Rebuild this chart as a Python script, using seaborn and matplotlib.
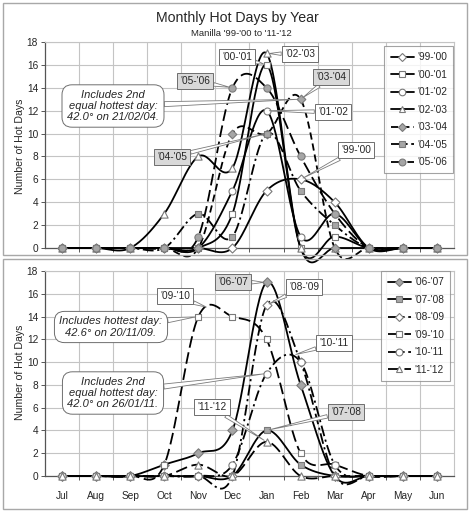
import numpy as np
import pandas as pd
import matplotlib
matplotlib.use("Agg")
import matplotlib.pyplot as plt
import seaborn as sns
from matplotlib.lines import Line2D
from matplotlib.patches import Rectangle

# ---------------- data ----------------
months = ["Jul", "Aug", "Sep", "Oct", "Nov", "Dec", "Jan", "Feb", "Mar", "Apr", "May", "Jun"]

top_labels = ["'99-'00", "'00-'01", "'01-'02", "'02-'03", "'03-'04", "'04-'05", "'05-'06"]
s99_00 = [0, 0, 0, 0, 0, 0, 5, 6, 4, 0, 0, 0]
s00_01 = [0, 0, 0, 0, 0, 3, 16, 0, 1, 0, 0, 0]
s01_02 = [0, 0, 0, 0, 0, 5, 12, 1, 3, 0, 0, 0]
s02_03 = [0, 0, 0, 3, 8, 7, 17, 0, 0, 0, 0, 0]
s03_04 = [0, 0, 0, 0, 0, 10, 10, 13, 0, 0, 0, 0]
s04_05 = [0, 0, 0, 0, 3, 1, 10, 5, 2, 0, 0, 0]
s05_06 = [0, 0, 0, 0, 1, 14, 14, 8, 3, 0, 0, 0]

bottom_labels = ["'06-'07", "'07-'08", "'08-'09", "'09-'10", "'10-'11", "'11-'12"]
s06_07 = [0, 0, 0, 1, 2, 4, 17, 8, 0, 0, 0, 0]
s07_08 = [0, 0, 0, 0, 0, 0, 4, 1, 0, 0, 0, 0]
s08_09 = [0, 0, 0, 0, 0, 0, 15, 10, 0, 0, 0, 0]
s09_10 = [0, 0, 0, 1, 14, 14, 12, 2, 1, 0, 0, 0]
s10_11 = [0, 0, 0, 0, 0, 1, 9, 10, 1, 0, 0, 0]
s11_12 = [0, 0, 0, 0, 1, 0, 3, 0, 0, 0, 0, 0]

y_ticks = [0, 2, 4, 6, 8, 10, 12, 14, 16, 18]

# ---------------- styles ----------------
WHITE = "white"
GREY = "#a6a6a6"
EDGE = "#7a7a7a"
SOLID = "-"
DASH = (0, (4.0, 2.2))
LONG = (0, (6.5, 2.6))
DASHDOT = (0, (6.0, 2.0, 1.2, 2.0))

top_styles = [
    ("D", WHITE, SOLID, 4.6),
    ("s", WHITE, SOLID, 4.6),
    ("o", WHITE, SOLID, 5.0),
    ("^", WHITE, SOLID, 5.2),
    ("D", GREY, DASH, 4.4),
    ("s", GREY, DASHDOT, 4.6),
    ("o", GREY, LONG, 5.2),
]
bottom_styles = [
    ("D", GREY, SOLID, 4.8),
    ("s", GREY, SOLID, 5.0),
    ("D", WHITE, DASHDOT, 4.6),
    ("s", WHITE, LONG, 4.6),
    ("o", WHITE, DASHDOT, 5.2),
    ("^", WHITE, LONG, 5.2),
]

sns.set_theme(style="white")
plt.rcParams["font.family"] = ["Liberation Sans", "DejaVu Sans"]

W, H = 471, 512
fig = plt.figure(figsize=(W / 100, H / 100), dpi=100)


def smooth(vals, n=30):
    """Excel-like smoothed line through the points (Catmull-Rom Bezier)."""
    y = np.asarray(vals, float)
    x = np.arange(len(y), dtype=float)
    P = np.column_stack([x, y])
    N = len(P)
    t = np.linspace(0, 1, n)[:, None]
    out = []
    for i in range(N - 1):
        p0 = P[max(i - 1, 0)]
        p1 = P[i]
        p2 = P[i + 1]
        p3 = P[min(i + 2, N - 1)]
        c1 = p1 + (p2 - p0) / 6.0
        c2 = p2 - (p3 - p1) / 6.0
        b = ((1 - t) ** 3) * p1 + 3 * ((1 - t) ** 2) * t * c1 + 3 * (1 - t) * t ** 2 * c2 + t ** 3 * p2
        out.append(b if i == 0 else b[1:])
    out = np.vstack(out)
    return out[:, 0], out[:, 1]


def make_axes(y0_px, y1_px):
    left, right = 45, 454
    ax = fig.add_axes([left / W, 1 - y1_px / H, (right - left) / W, (y1_px - y0_px) / H])
    ax.set_xlim(-0.5, len(months) - 0.5)
    ax.set_ylim(0, 18)
    ax.set_yticks(y_ticks)
    ax.set_xticks(range(len(months)))
    ax.set_xticks(np.arange(0.5, len(months) - 1, 1.0), minor=True)
    ax.grid(False)
    ax.grid(True, which="minor", axis="x", color="#c4c4c4", lw=0.8)
    ax.grid(True, which="major", axis="y", color="#c4c4c4", lw=0.8)
    ax.set_axisbelow(True)
    for s in ["top", "right"]:
        ax.spines[s].set_color("#c4c4c4")
        ax.spines[s].set_linewidth(0.8)
    for s in ["left", "bottom"]:
        ax.spines[s].set_color("#555555")
        ax.spines[s].set_linewidth(0.9)
    ax.tick_params(axis="y", which="major", labelsize=7.3, length=3, width=0.7,
                   color="#555555", pad=2, left=True, direction="out")
    ax.tick_params(axis="x", which="major", length=0, labelsize=7.3, pad=11)
    ax.tick_params(axis="x", which="minor", length=3, width=0.7, color="#555555", bottom=True,
                   direction="out")
    ax.set_facecolor("white")
    return ax


def draw_series(ax, series, styles):
    for vals, (mk, face, ls, ms) in zip(series, styles):
        cx, cy = smooth(vals)
        sns.lineplot(x=cx, y=cy, ax=ax, color="black", linewidth=1.3, linestyle=ls,
                     sort=False, estimator=None, legend=False, zorder=3, clip_on=False)
    for vals, (mk, face, ls, ms) in zip(series, styles):
        sns.scatterplot(x=np.arange(len(vals)), y=vals, ax=ax, marker=mk, s=ms ** 2,
                        color=face, edgecolor=EDGE, linewidth=0.8, zorder=4,
                        clip_on=False, legend=False)


def legend_for(ax, labels, styles, right_px, top_px):
    handles = [Line2D([0], [0], color="black", lw=1.3, linestyle=ls, marker=mk,
                      markerfacecolor=face, markeredgecolor=EDGE, markersize=ms * 0.95,
                      markeredgewidth=0.8)
               for (mk, face, ls, ms) in styles]
    leg = ax.legend(handles, labels, loc="upper right",
                    bbox_to_anchor=(right_px / W, 1 - top_px / H),
                    bbox_transform=fig.transFigure, fontsize=7.3, frameon=True,
                    fancybox=False, edgecolor="#8c8c8c", handlelength=2.3,
                    handletextpad=0.3, labelspacing=0.74, borderpad=0.6,
                    borderaxespad=0)
    leg.get_frame().set_linewidth(0.8)
    leg.set_zorder(6)


def fpx(x, y):
    return (x, H - y)


def label(ax, text, xy, pos, grey=False):
    ax.annotate(text, xy=xy, xycoords="data", xytext=fpx(*pos), textcoords="figure pixels",
                ha="center", va="center", fontsize=7.3, zorder=7,
                bbox=dict(boxstyle="square,pad=0.34", fc="#d9d9d9" if grey else "white",
                          ec="#6e6e6e", lw=0.7),
                arrowprops=dict(arrowstyle="wedge,tail_width=0.35", fc="white", ec="#7a7a7a",
                                lw=0.6, shrinkA=0, shrinkB=2))


def callout(ax, text, xy, pos):
    ax.annotate(text, xy=xy, xycoords="data", xytext=fpx(*pos), textcoords="figure pixels",
                ha="center", va="center", fontsize=8.0, style="italic", zorder=7,
                linespacing=1.15,
                bbox=dict(boxstyle="round,pad=0.45,rounding_size=0.9", fc="white",
                          ec="#6e6e6e", lw=0.7),
                arrowprops=dict(arrowstyle="wedge,tail_width=0.45", fc="white", ec="#7a7a7a",
                                lw=0.6, shrinkA=0, shrinkB=2))


# ---------------- panel frames ----------------
fig.add_artist(Rectangle((3 / W, 1 - 255 / H), 464 / W, 252 / H, transform=fig.transFigure,
                         fill=False, ec="#a8a8a8", lw=1.0))
fig.add_artist(Rectangle((3 / W, 1 - 509 / H), 464 / W, 250 / H, transform=fig.transFigure,
                         fill=False, ec="#a8a8a8", lw=1.0))

# ---------------- top panel ----------------
ax1 = make_axes(42, 248)
top_series = [s99_00, s00_01, s01_02, s02_03, s03_04, s04_05, s05_06]
draw_series(ax1, top_series, top_styles)
ax1.set_xticklabels([])
ax1.set_xlabel("")
ax1.set_ylabel("")
legend_for(ax1, top_labels, top_styles, 453, 46)

jan, feb, dec = months.index("Jan"), months.index("Feb"), months.index("Dec")
label(ax1, "'00-'01", (jan, s00_01[jan]), (237, 57))
label(ax1, "'02-'03", (jan, s02_03[jan]), (300, 54))
label(ax1, "'05-'06", (dec, s05_06[dec]), (195, 81), grey=True)
label(ax1, "'03-'04", (feb, s03_04[feb]), (331, 77), grey=True)
label(ax1, "'01-'02", (jan, s01_02[jan]), (333, 112))
label(ax1, "'99-'00", (feb, s99_00[feb]), (356, 150))
label(ax1, "'04-'05", (jan, s04_05[jan]), (172, 157), grey=True)
callout(ax1, "Includes 2nd\nequal hottest day:\n42.0° on 21/02/04.", (feb, s03_04[feb]), (113, 106))

fig.text(237 / W, 1 - 18 / H, "Monthly Hot Days by Year", ha="center", va="center", fontsize=10.2)
fig.text(241 / W, 1 - 33 / H, "Manilla '99-'00 to '11-'12", ha="center", va="center", fontsize=6.8)
fig.text(20 / W, 1 - 146 / H, "Number of Hot Days", ha="center", va="center", rotation=90,
         fontsize=7.6)

# ---------------- bottom panel ----------------
ax2 = make_axes(271, 476)
bottom_series = [s06_07, s07_08, s08_09, s09_10, s10_11, s11_12]
draw_series(ax2, bottom_series, bottom_styles)
ax2.set_xticklabels(months)
ax2.set_xlabel("")
ax2.set_ylabel("")
legend_for(ax2, bottom_labels, bottom_styles, 450, 271)

nov = months.index("Nov")
label(ax2, "'06-'07", (jan, s06_07[jan]), (233, 282), grey=True)
label(ax2, "'08-'09", (jan, s08_09[jan]), (304, 287))
label(ax2, "'09-'10", (4.31, 14.75), (175, 296))
label(ax2, "'10-'11", (6.78, 10.6), (334, 343))
label(ax2, "'11-'12", (jan, s11_12[jan]), (212, 407))
label(ax2, "'07-'08", (jan, s07_08[jan]), (346, 412), grey=True)
callout(ax2, "Includes hottest day:\n42.6° on 20/11/09.", (nov, s09_10[nov]), (111, 327))
callout(ax2, "Includes 2nd\nequal hottest day:\n42.0° on 26/01/11.", (jan, s10_11[jan]), (113, 393))

fig.text(20 / W, 1 - 372 / H, "Number of Hot Days", ha="center", va="center", rotation=90,
         fontsize=7.6)

fig.savefig("out.png", dpi=100, facecolor="white")
